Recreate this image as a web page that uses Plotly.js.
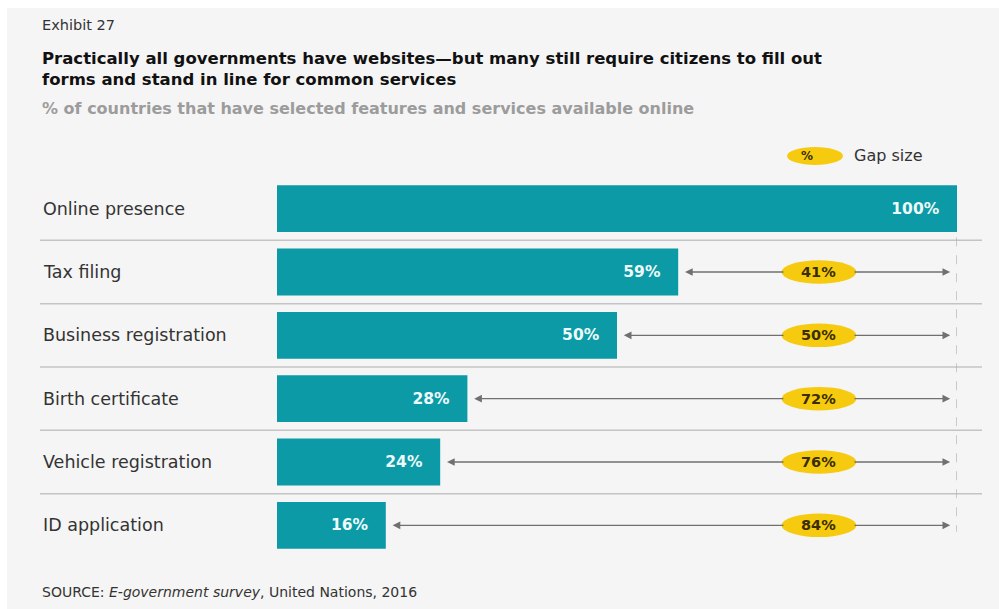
<!DOCTYPE html>
<html>
<head>
<meta charset="utf-8">
<script src="https://cdn.plot.ly/plotly-3.0.1.min.js"></script>
<style>html,body{margin:0;padding:0;background:#fff;}#chart{width:999px;height:609px;}</style>
</head>
<body>
<div id="chart"></div>
<script>
// ---- data ----
const categories = ["Online presence", "Tax filing", "Business registration", "Birth certificate", "Vehicle registration", "ID application"];
const shareOnline = [100, 59, 50, 28, 24, 16];
const gapSize = [null, 41, 50, 72, 76, 84];
const exhibitLabel = "Exhibit 27";
const titleText = "Practically all governments have websites\u2014but many still require citizens to fill out<br>forms and stand in line for common services";
const subtitleText = "% of countries that have selected features and services available online";
const sourceText = "SOURCE: <i>E-government survey</i>, United Nations, 2016";
const legendText = "Gap size";

// ---- layout geometry ----
const W = 999, H = 609;
const L = 277, R = 42, T = 177, B = 52;
const plotW = W - L - R, plotH = H - T - B;
const px = x => (x - L) / plotW;          // pixel x -> paper x
const py = y => (H - B - y) / plotH;      // pixel y -> paper y

const rows = categories.map((c, i) => i);
const teal = "#0b9aa6";
const yellow = "#f6cb0f";
const pad = "\u00a0\u00a0\u00a0";

const traces = [{
  type: "bar",
  orientation: "h",
  x: shareOnline,
  y: rows,
  width: 0.74,
  marker: {color: teal},
  text: shareOnline.map(v => "<b>" + v + "%</b>" + pad),
  textposition: "inside",
  insidetextanchor: "end",
  textfont: {family: "DejaVu Sans", size: 15.5, color: "#eefafa"},
  hoverinfo: "skip"
}];

const shapes = [];
const annotations = [];

// background panel
shapes.push({type: "rect", xref: "paper", yref: "paper", x0: px(7), x1: px(999), y0: py(8), y1: py(609),
  fillcolor: "#f5f5f5", line: {width: 0}, layer: "below"});

// separators between rows
for (let i = 0; i < categories.length - 1; i++) {
  shapes.push({type: "line", xref: "paper", yref: "y", x0: px(40), x1: px(982), y0: i + 0.5, y1: i + 0.5,
    line: {color: "#c4c4c4", width: 1.5}, layer: "below"});
}
// dashed 100% line
shapes.push({type: "line", xref: "x", yref: "y", x0: 100, x1: 100, y0: 0.45, y1: 5.1,
  line: {color: "#9fb0c0", width: 1.2, dash: "dash"}});

// category labels
categories.forEach((c, i) => {
  annotations.push({xref: "paper", yref: "y", x: px(41), y: i, xanchor: "left", yanchor: "middle",
    text: c, showarrow: false, font: {family: "DejaVu Sans", size: 17.5, color: "#333"}});
});

// gap arrows (two halves, interrupted by the label ellipse) + labels
const gapX = 79.7, halfW = 5.5;
const arrowStyle = {text: "", showarrow: true, arrowhead: 2, arrowside: "end", arrowsize: 1.1,
  arrowwidth: 1.4, arrowcolor: "#707070", standoff: 0, startstandoff: 0};
gapSize.forEach((g, i) => {
  if (g === null) return;
  annotations.push(Object.assign({xref: "x", yref: "y", axref: "x", ayref: "y",
    x: shareOnline[i] + 1, y: i, ax: gapX - halfW + 0.5, ay: i}, arrowStyle));
  annotations.push(Object.assign({xref: "x", yref: "y", axref: "x", ayref: "y",
    x: 99, y: i, ax: gapX + halfW - 0.5, ay: i}, arrowStyle));
  shapes.push({type: "circle", xref: "x", yref: "y", x0: gapX - halfW, x1: gapX + halfW, y0: i - 0.185, y1: i + 0.185,
    fillcolor: yellow, line: {width: 0}});
  annotations.push({xref: "x", yref: "y", x: gapX, y: i, text: "<b>" + g + "%</b>", showarrow: false,
    font: {family: "DejaVu Sans", size: 14.5, color: "#3a2e00"}});
});

// legend
shapes.push({type: "circle", xref: "paper", yref: "paper", x0: px(787), x1: px(843), y0: py(165), y1: py(147),
  fillcolor: yellow, line: {width: 0}});
annotations.push({xref: "paper", yref: "paper", x: px(815), y: py(156), yanchor: "middle", text: "<b>%</b>", showarrow: false,
  font: {family: "DejaVu Sans", size: 12, color: "#3a2e00"}});
annotations.push({xref: "paper", yref: "paper", x: px(852), y: py(156), xanchor: "left", yanchor: "middle", text: legendText, showarrow: false,
  font: {family: "DejaVu Sans", size: 16, color: "#333"}});

// titles and source
annotations.push({xref: "paper", yref: "paper", x: px(40), y: py(25), xanchor: "left", yanchor: "middle", text: exhibitLabel,
  showarrow: false, font: {family: "DejaVu Sans", size: 14.5, color: "#333"}});
annotations.push({xref: "paper", yref: "paper", x: px(40), y: py(69), xanchor: "left", yanchor: "middle", align: "left",
  text: "<b>" + titleText + "</b>", showarrow: false, font: {family: "DejaVu Sans", size: 16.5, color: "#111"}});
annotations.push({xref: "paper", yref: "paper", x: px(40), y: py(108), xanchor: "left", yanchor: "middle", text: "<b>" + subtitleText + "</b>",
  showarrow: false, font: {family: "DejaVu Sans", size: 16, color: "#9c9c9c"}});
annotations.push({xref: "paper", yref: "paper", x: px(40), y: py(592), xanchor: "left", yanchor: "middle", text: sourceText,
  showarrow: false, font: {family: "DejaVu Sans", size: 14, color: "#333"}});

const layout = {
  width: W, height: H,
  margin: {l: L, r: R, t: T, b: B},
  paper_bgcolor: "#ffffff",
  plot_bgcolor: "rgba(0,0,0,0)",
  showlegend: false,
  xaxis: {range: [0, 100], visible: false, fixedrange: true},
  yaxis: {range: [5.5, -0.5], visible: false, fixedrange: true},
  shapes: shapes,
  annotations: annotations
};

Plotly.newPlot("chart", traces, layout, {displayModeBar: false, staticPlot: true});
</script>
</body>
</html>
